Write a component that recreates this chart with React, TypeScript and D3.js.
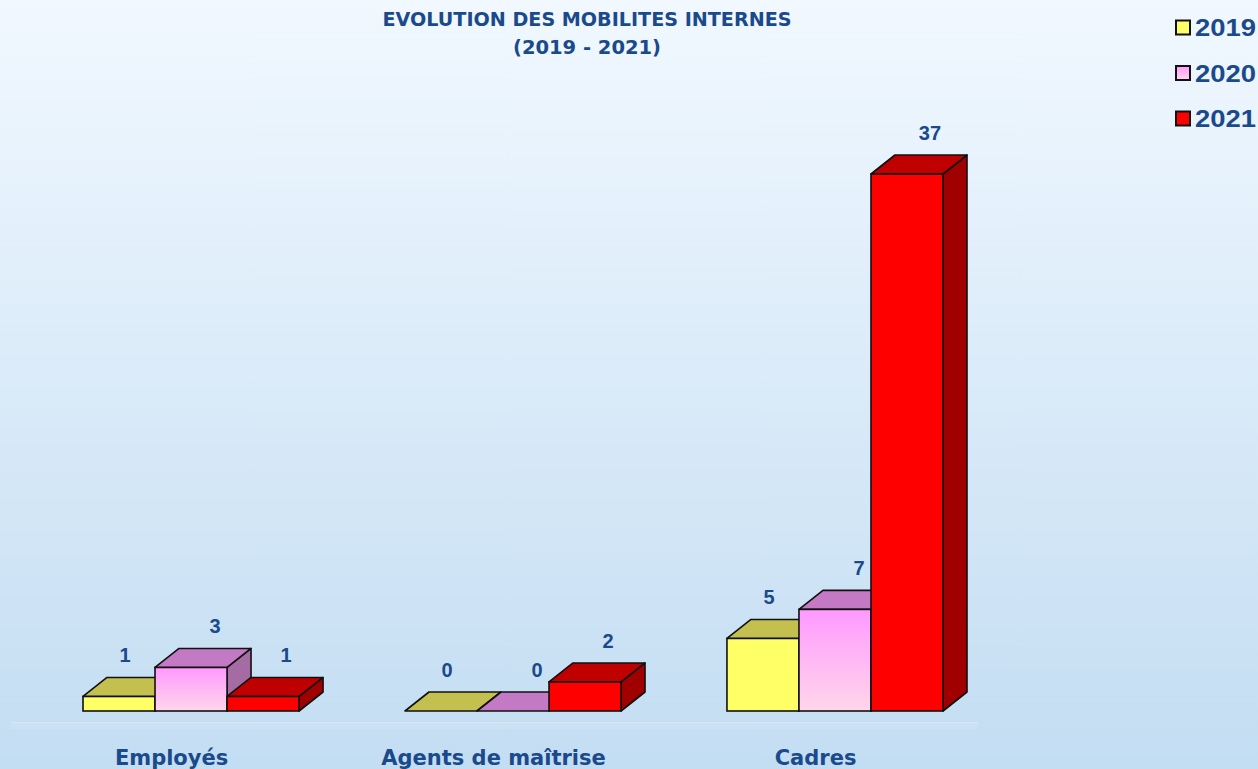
import React from "react";
import * as d3 from "d3";

const categories = ["Employés", "Agents de maîtrise", "Cadres"];
const seriesNames = ["2019", "2020", "2021"];
const values2019 = [1, 0, 5];
const values2020 = [3, 0, 7];
const values2021 = [1, 2, 37];
const seriesValues = [values2019, values2020, values2021];
const titleLines = ["EVOLUTION DES MOBILITES INTERNES", "(2019 - 2021)"];

const W = 1258;
const H = 769;
const DX = 24;
const DY = 19;
const BLUE = "#1a4a8c";

const palettes = [
  { front: "#ffff66", top: "#c4c050", side: "#a3a040", legend: "#ffff66" },
  { front: "url(#pinkGrad)", top: "#c479c4", side: "#a46ca2", legend: "url(#pinkGradL)" },
  { front: "#ff0000", top: "#c00000", side: "#a00000", legend: "#ff0000" },
];
const labelShift = [6, 24, 23];

export default function App() {
  const x0 = d3.scaleBand<string>().domain(categories).range([83, 943]).paddingInner(0.329).paddingOuter(0);
  const x1 = d3.scaleBand<string>().domain(seriesNames).range([0, x0.bandwidth()]).padding(0);
  const y = d3.scaleLinear().domain([0, 37]).range([711, 174]);
  const bw = x1.bandwidth();

  const bars: React.ReactNode[] = [];
  categories.forEach((cat, ci) => {
    seriesNames.forEach((s, si) => {
      const v = seriesValues[si][ci];
      const xl = (x0(cat) as number) + (x1(s) as number);
      const xr = xl + bw;
      const yb = y(0);
      const yt = y(v);
      const p = palettes[si];
      const top = `M${xl},${yt} L${xl + DX},${yt - DY} L${xr + DX},${yt - DY} L${xr},${yt} Z`;
      const side = `M${xr},${yt} L${xr + DX},${yt - DY} L${xr + DX},${yb - DY} L${xr},${yb} Z`;
      bars.push(
        <g key={`${ci}-${si}`}>
          {v > 0 && <path d={side} fill={p.side} stroke="#111" strokeWidth={1.6} strokeLinejoin="round" />}
          <path d={top} fill={p.top} stroke="#111" strokeWidth={1.6} strokeLinejoin="round" />
          {v > 0 && <rect x={xl} y={yt} width={bw} height={yb - yt} fill={p.front} stroke="#111" strokeWidth={1.6} />}
          <text
            x={xl + bw / 2 + labelShift[si]}
            y={yt - 34}
            textAnchor="middle"
            fontFamily="Liberation Sans, Arial, sans-serif"
            fontWeight="bold"
            fontSize={20}
            fill={BLUE}
          >
            {v}
          </text>
        </g>
      );
    });
  });

  return (
    <svg width={W} height={H} style={{ position: "absolute", left: 0, top: 0, display: "block" }}>
      <defs>
        <linearGradient id="bg" x1="0" y1="0" x2="0" y2="1">
          <stop offset="0" stopColor="#f1f8ff" />
          <stop offset="1" stopColor="#c3ddf2" />
        </linearGradient>
        <linearGradient id="pinkGrad" x1="0" y1="0" x2="0" y2="1">
          <stop offset="0" stopColor="#ff99ff" />
          <stop offset="1" stopColor="#ffd6ea" />
        </linearGradient>
        <linearGradient id="pinkGradL" x1="0" y1="0" x2="0" y2="1">
          <stop offset="0" stopColor="#ff99ff" />
          <stop offset="1" stopColor="#ffd6ea" />
        </linearGradient>
      </defs>
      <rect x={0} y={0} width={W} height={H} fill="url(#bg)" />
      <rect x={11} y={722} width={967} height={7} fill="#cce1f4" />
      <line x1={11} x2={978} y1={722.5} y2={722.5} stroke="#d6e7f7" strokeWidth={1} />

      {titleLines.map((t, i) => (
        <text
          key={t}
          x={587}
          y={26 + i * 28}
          textAnchor="middle"
          fontFamily="DejaVu Sans, sans-serif"
          fontWeight="bold"
          fontSize={19}
          fill={BLUE}
          textLength={i === 0 ? 409 : 148}
          lengthAdjust="spacingAndGlyphs"
        >
          {t}
        </text>
      ))}

      {seriesNames.map((s, i) => (
        <g key={s}>
          <rect x={1176} y={20.5 + i * 45.5} width={14} height={14} fill={palettes[i].legend} stroke="#111" strokeWidth={2} />
          <text
            x={1195}
            y={36 + i * 45.5}
            fontFamily="Liberation Sans, Arial, sans-serif"
            fontWeight="bold"
            fontSize={23}
            fill={BLUE}
            textLength={61}
            lengthAdjust="spacingAndGlyphs"
          >
            {s}
          </text>
        </g>
      ))}

      {bars}

      {categories.map((c) => (
        <text
          key={c}
          x={(x0(c) as number) + x0.bandwidth() * 0.41}
          y={765}
          textAnchor="middle"
          fontFamily="DejaVu Sans, sans-serif"
          fontWeight="bold"
          fontSize={21}
          fill={BLUE}
        >
          {c}
        </text>
      ))}
    </svg>
  );
}
